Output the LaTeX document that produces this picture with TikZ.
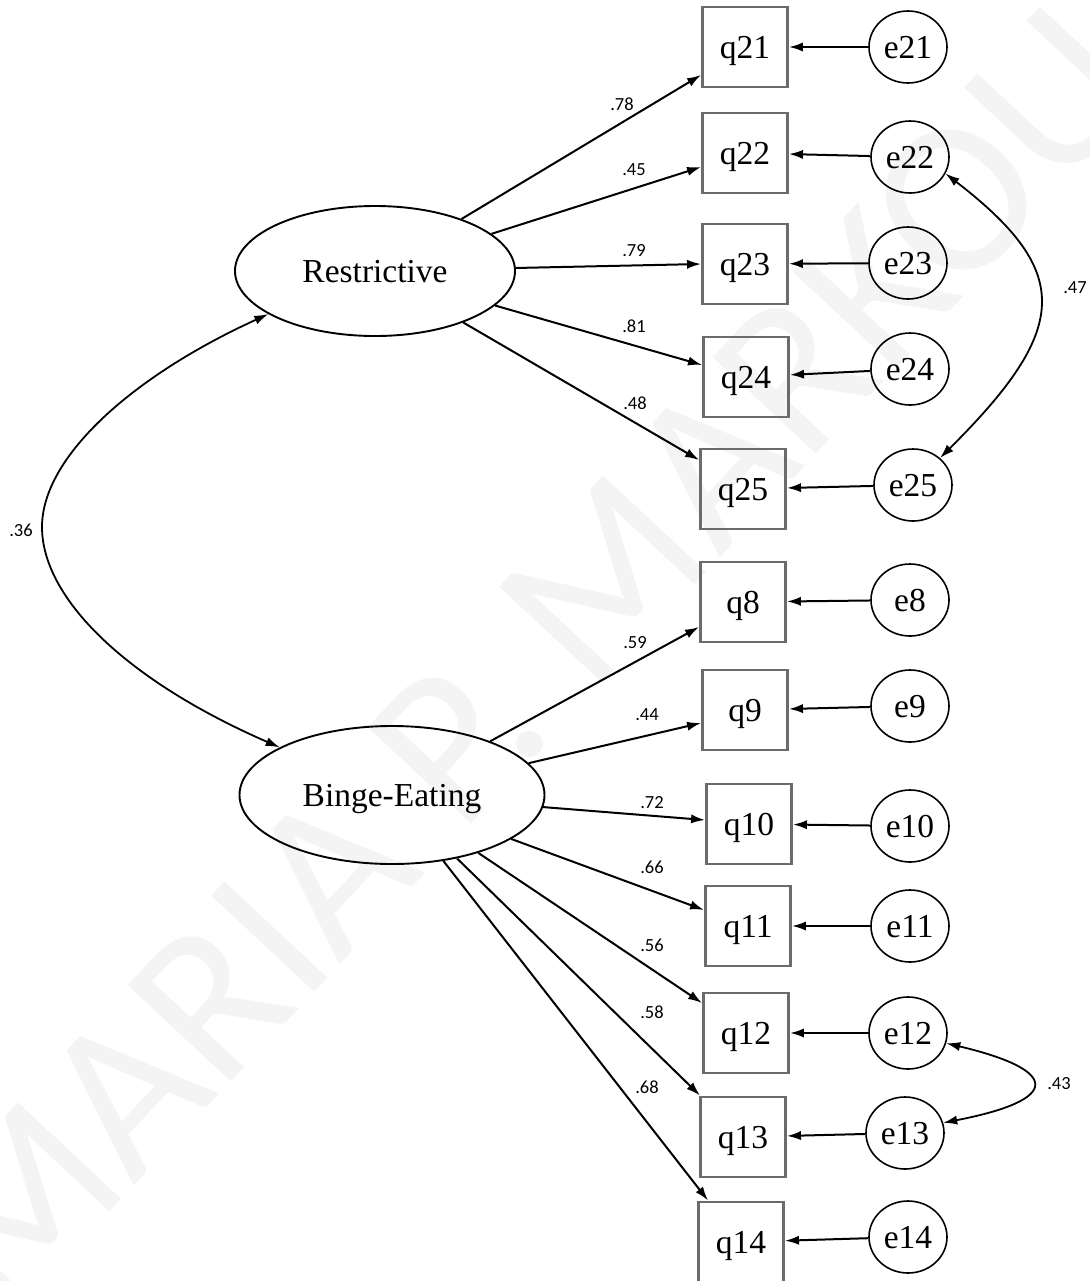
\documentclass[tikz,border=0pt]{standalone}
\usepackage{fontspec}
\setmainfont{Liberation Serif}
\newfontfamily\labfont{Carlito}
\newfontfamily\wmfont{Carlito}
\usetikzlibrary{shapes.geometric,arrows.meta}
\begin{document}
\begin{tikzpicture}[x=0.5pt,y=-0.5pt,
  nfont/.style={font=\fontsize{16.75}{20}\selectfont},
  obs/.style={rectangle,draw=black!58,line width=1.45pt,minimum width=42.5pt,minimum height=40pt,inner sep=0pt,text depth=0pt,nfont},
  err/.style={ellipse,draw,line width=0.8pt,minimum width=39pt,minimum height=36pt,inner sep=0pt,text depth=0pt,nfont},
  lat/.style={ellipse,draw,line width=0.95pt,inner sep=0pt,text depth=0pt,nfont},
  coef/.style={font=\labfont\fontsize{9.25}{11}\selectfont,inner sep=0pt},
  load/.style={line width=1pt,-{Latex[length=7pt,width=4.6pt]}},
  cov/.style={line width=0.9pt,{Latex[length=7pt,width=4.6pt]}-{Latex[length=7pt,width=4.6pt]}}]
\useasboundingbox (0,0) rectangle (1089,1281);
% watermark
\node[rotate=47,text=black!4.5,font=\wmfont\fontsize{110}{110}\selectfont,inner sep=0pt] (wm) at (528,660) {MARIA P. MARKOU};

% latent variables
\node[lat,minimum width=140pt,minimum height=65pt] (R) at (375,271) {Restrictive};
\node[lat,minimum width=152.5pt,minimum height=69pt] (B) at (392,795) {Binge-Eating};

% observed
\node[obs] (q21) at (745,47) {q21};
\node[obs] (q22) at (745,153) {q22};
\node[obs] (q23) at (745,264) {q23};
\node[obs] (q24) at (746,377) {q24};
\node[obs] (q25) at (743,489) {q25};
\node[obs] (q8) at (743,602) {q8};
\node[obs] (q9) at (745,710) {q9};
\node[obs] (q10) at (749,824) {q10};
\node[obs] (q11) at (748,926) {q11};
\node[obs] (q12) at (746,1033) {q12};
\node[obs] (q13) at (743,1137) {q13};
\node[obs] (q14) at (741,1242) {q14};

% errors
\node[err] (e21) at (908,47) {e21};
\node[err] (e22) at (910,157) {e22};
\node[err] (e23) at (908,263) {e23};
\node[err] (e24) at (910,369) {e24};
\node[err] (e25) at (913,485) {e25};
\node[err] (e8) at (910,600) {e8};
\node[err] (e9) at (910,706) {e9};
\node[err] (e10) at (910,826) {e10};
\node[err] (e11) at (910,926) {e11};
\node[err] (e12) at (908,1033) {e12};
\node[err] (e13) at (905,1133) {e13};
\node[err] (e14) at (908,1237) {e14};

% loadings Restrictive
\draw[load] (R) -- ([yshift=-14pt]q21.west);
\draw[load] (R) -- ([yshift=-7pt]q22.west);
\draw[load] (R) -- (q23.west);
\draw[load] (R) -- ([yshift=6pt]q24.west);
\draw[load] (R) -- ([yshift=14.5pt]q25.west);
% loadings Binge
\draw[load] (B) -- ([yshift=-12.5pt]q8.west);
\draw[load] (B) -- ([yshift=-6.5pt]q9.west);
\draw[load] (B) -- ([yshift=2pt]q10.west);
\draw[load] (B) -- ([yshift=8pt]q11.west);
\draw[load] (B) -- ([yshift=15pt]q12.west);
\draw[load] (B) -- ([xshift=0.5pt]q13.north west);
\draw[load] (B) -- ([xshift=5.5pt]q14.north west);

% error paths
\foreach \i in {21,22,23,24,25,8,9,10,11,12,13,14}{
  \draw[load] (e\i) -- (q\i);
}

% covariances
\coordinate (m36) at (42,527);
\draw[cov] (R.202) .. controls +(-136,62) and +(0,-70) .. (m36)
  .. controls +(0,70) and +(-156,-68) .. (B.157);
\draw[cov] (e22.-25) .. controls +(127,98) and +(131,-130) .. (e25.45);
\draw[cov] (e12.-15) .. controls +(114,27) and +(119,-23) .. (e13.15);

% coefficient labels
\node[coef] (c78) at (622,104) {.78};
\node[coef] (c45) at (634,170) {.45};
\node[coef] (c79) at (634,251) {.79};
\node[coef] (c81) at (634,326) {.81};
\node[coef] (c48) at (635,403) {.48};
\node[coef] (c59) at (635,643) {.59};
\node[coef] (c44) at (647,715) {.44};
\node[coef] (c72) at (652,803) {.72};
\node[coef] (c66) at (652,867) {.66};
\node[coef] (c56) at (652,945) {.56};
\node[coef] (c58) at (652,1012) {.58};
\node[coef] (c68) at (647,1087) {.68};
\node[coef] (c36) at (21,530) {.36};
\node[coef] (c47) at (1075,288) {.47};
\node[coef] (c43) at (1059,1084) {.43};
\end{tikzpicture}
\end{document}
